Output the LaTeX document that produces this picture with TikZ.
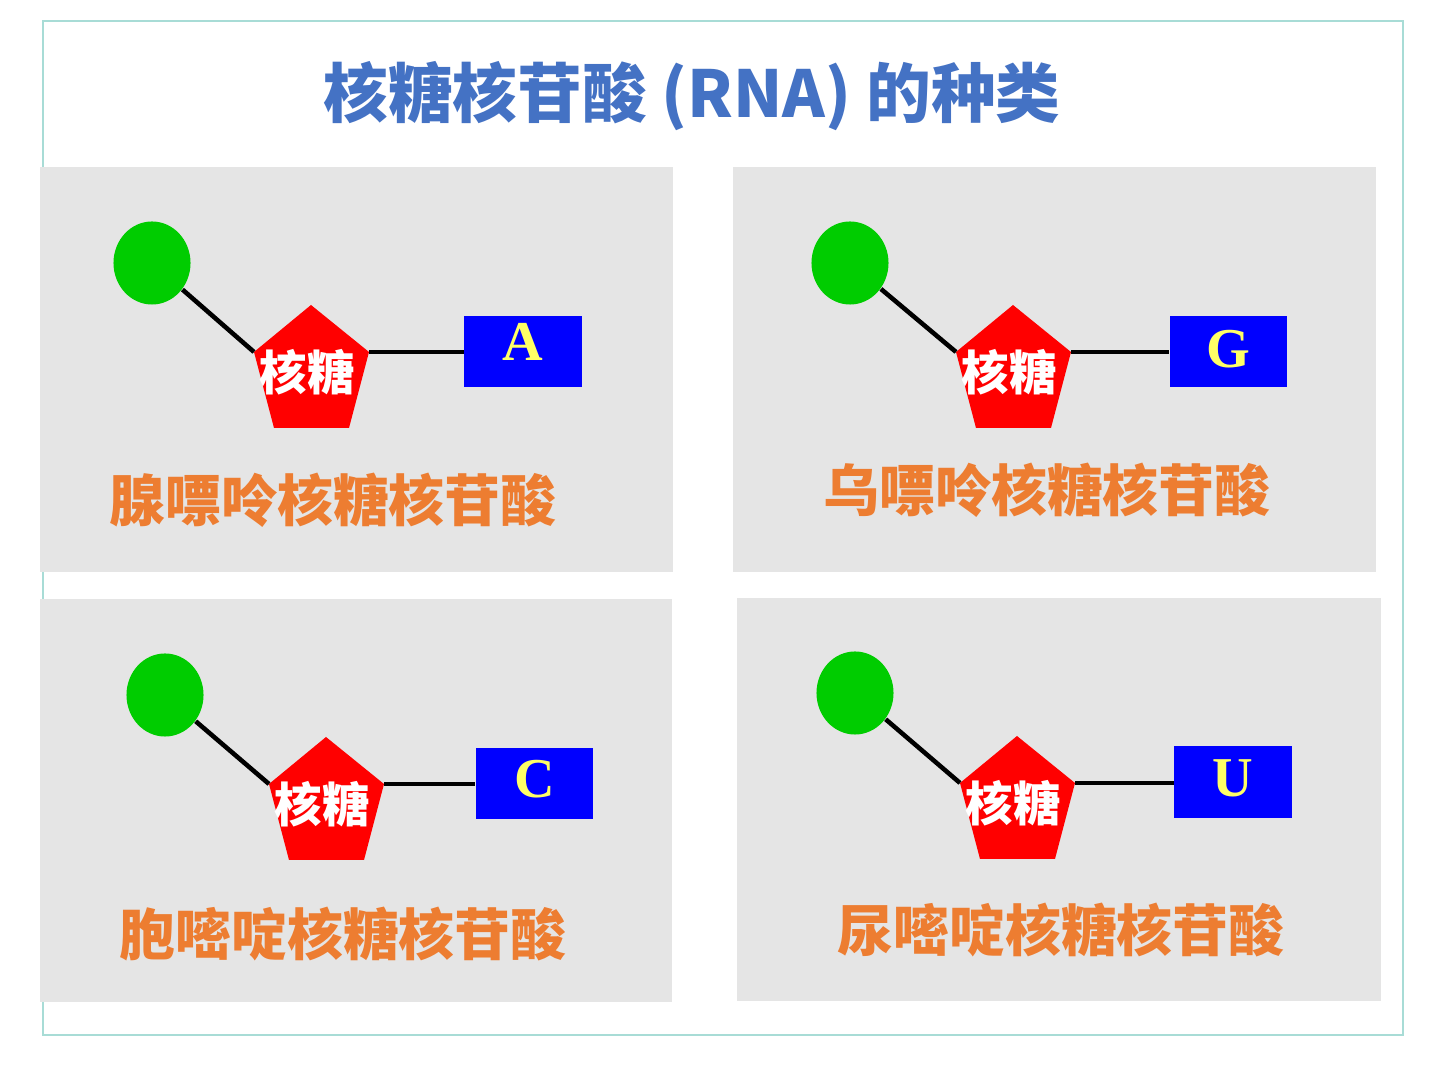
\documentclass[tikz,border=0pt]{standalone}
\usepackage{fontspec}
\setmainfont{Liberation Serif}
\newfontfamily\cjk{Noto Sans CJK SC}
\usetikzlibrary{shapes.geometric}
\definecolor{panelgray}{HTML}{E5E5E5}
\definecolor{framecol}{RGB}{168,220,214}
\definecolor{titleblue}{HTML}{4472C4}
\definecolor{labelorange}{HTML}{ED7D31}
\definecolor{phosgreen}{HTML}{00CC00}
\definecolor{sugarred}{HTML}{FF0000}
\definecolor{baseblue}{HTML}{0000FF}
\definecolor{letteryellow}{HTML}{FFFF66}
\newcommand\nucunit[7]{% #1 prefix, #2,#3 phosphate centre, #4,#5 sugar top vertex, #6,#7 base box centre
  \node[phos] (#1P) at (#2,#3) {};
  \coordinate (#1T) at (#4,#5);
  \coordinate (#1L) at (#4-57,#5+47);
  \coordinate (#1R) at (#4+58,#5+47);
  \coordinate (#1BL) at (#4-37,#5+123);
  \coordinate (#1BR) at (#4+38,#5+123);
  \fill[sugarred] (#1T) -- (#1R) -- (#1BR) -- (#1BL) -- (#1L) -- cycle;
  \node[sugartext] (#1S) at (#4-4,#5+67) {核糖};
  \node[basebox] (#1B) at (#6,#7) {};
  \draw[bond] (#1P) -- (#1L);
  \draw[bond] (#1R) -- (#1R -| #1B.west);
}
\begin{document}
\begin{tikzpicture}[x=0.01cm,y=-0.01cm,
  panel/.style={fill=panelgray,draw=none},
  phos/.style={ellipse,fill=phosgreen,draw=none,inner sep=0pt,minimum width=0.77cm,minimum height=0.83cm},
  sugartext/.style={text=white,font=\cjk\bfseries\fontsize{13.5pt}{14pt}\selectfont,inner sep=0pt},
  basebox/.style={rectangle,fill=baseblue,draw=none,inner sep=0pt,minimum width=1.17cm,minimum height=0.71cm},
  letter/.style={text=letteryellow,font=\bfseries\fontsize{16pt}{18pt}\selectfont,inner sep=0pt},
  bond/.style={draw=black,line width=1.3pt},
  namelabel/.style={text=labelorange,font=\cjk\bfseries\fontsize{15.9pt}{18pt}\selectfont,inner sep=0pt},
  titletext/.style={text=titleblue,font=\cjk\bfseries\fontsize{18.4pt}{20pt}\selectfont,inner sep=0pt}]
\useasboundingbox[fill=white] (0,0) rectangle (1445,1080);
\draw[framecol,line width=0.6pt] (43,21) rectangle (1403,1035);
\node[titletext] (title) at (692,96) {核糖核苷酸 (RNA) 的种类};
% panels
\fill[panel] (40,167) rectangle (673,572);
\fill[panel] (733,167) rectangle (1376,572);
\fill[panel] (40,599) rectangle (672,1002);
\fill[panel] (737,598) rectangle (1381,1001);
% units
\nucunit{a}{152}{263}{311}{305}{523}{351.5}
\node[letter] (aA) at ([yshift=0.1cm]aB.center) {A};
\node[namelabel] (aN) at (333,500) {腺嘌呤核糖核苷酸};
\nucunit{g}{850}{263}{1013}{305}{1228.5}{351.5}
\node[letter] (gA) at ([yshift=0.02cm]gB.center) {G};
\node[namelabel] (gN) at (1047,490) {乌嘌呤核糖核苷酸};
\nucunit{c}{165}{695}{326}{737}{534.5}{783.5}
\node[letter] (cA) at ([yshift=0.04cm]cB.center) {C};
\node[namelabel] (cN) at (343,934) {胞嘧啶核糖核苷酸};
\nucunit{u}{855}{693}{1017}{736}{1233}{782}
\node[letter] (uA) at ([yshift=0.04cm]uB.center) {U};
\node[namelabel] (uN) at (1061,930) {尿嘧啶核糖核苷酸};
\end{tikzpicture}
\end{document}
